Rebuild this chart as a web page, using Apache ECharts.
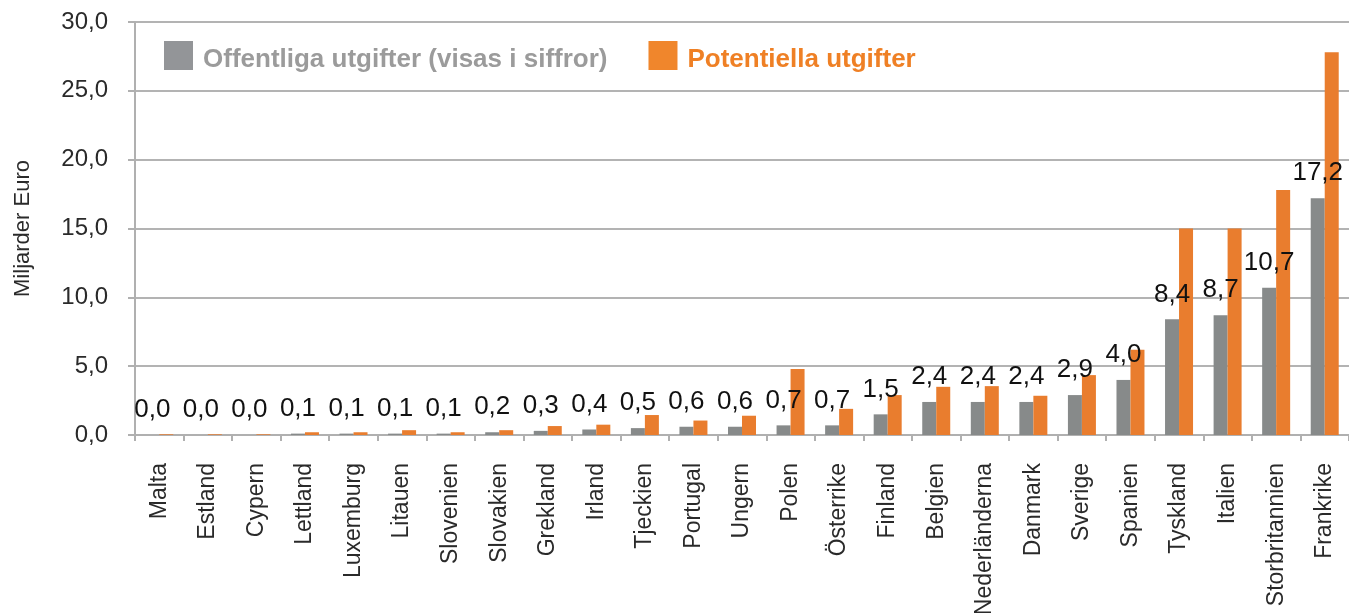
<!DOCTYPE html>
<html>
<head>
<meta charset="utf-8">
<style>
  html, body { margin: 0; padding: 0; background: #fff; }
  #chart { width: 1349px; height: 613px; }
</style>
<script src="https://cdn.jsdelivr.net/npm/echarts@6/dist/echarts.min.js"></script>
</head>
<body>
<div id="chart"></div>
<script>
var categories = ['Malta', 'Estland', 'Cypern', 'Lettland', 'Luxemburg', 'Litauen', 'Slovenien', 'Slovakien',
    'Grekland', 'Irland', 'Tjeckien', 'Portugal', 'Ungern', 'Polen', 'Österrike', 'Finland', 'Belgien',
    'Nederländerna', 'Danmark', 'Sverige', 'Spanien', 'Tyskland', 'Italien', 'Storbritannien', 'Frankrike'];

// offentliga utgifter (visas i siffror)
var offentliga = [0.0, 0.0, 0.0, 0.1, 0.1, 0.1, 0.1, 0.2, 0.3, 0.4, 0.5, 0.6, 0.6, 0.7, 0.7, 1.5, 2.4,
    2.4, 2.4, 2.9, 4.0, 8.4, 8.7, 10.7, 17.2];

// potentiella utgifter, avlästa ur staplarna
var potentiella = [0.05, 0.05, 0.05, 0.2, 0.2, 0.35, 0.2, 0.35, 0.65, 0.75, 1.45, 1.05, 1.4, 4.8, 1.9,
    2.9, 3.5, 3.55, 2.85, 4.35, 6.2, 15.0, 15.0, 17.8, 27.8];

var yTicks = [0, 5, 10, 15, 20, 25, 30];

var sans = '"Liberation Sans", Arial, sans-serif';

function komma(v) {
    return Number(v).toFixed(1).replace('.', ',');
}

// legendtext som sitter lite lägre än rutans mitt
function legendText(color) {
    return {
        color: color,
        rich: {
            t: { color: color, fontFamily: sans, fontWeight: 'bold', fontSize: 26, padding: [9, 0, 0, 5] }
        }
    };
}

function init() {
    var chart = echarts.init(document.getElementById('chart'));
    chart.setOption({
        animation: false,
        grid: { left: 135, right: 0, top: 22, bottom: 178, outerBoundsMode: 'none', containLabel: false },
        legend: {
            left: 164,
            top: 41,
            padding: 0,
            itemWidth: 29,
            itemHeight: 29,
            itemGap: 41,
            icon: 'rect',
            formatter: function (name) { return '{t|' + name + '}'; },
            data: [
                { name: 'Offentliga utgifter (visas i siffror)', itemStyle: { color: '#939598' },
                  textStyle: legendText('#9b9b9b') },
                { name: 'Potentiella utgifter', itemStyle: { color: '#f0862c' },
                  textStyle: legendText('#ef8025') }
            ],
            textStyle: { fontFamily: sans, fontWeight: 'bold', fontSize: 26 }
        },
        xAxis: {
            type: 'category',
            data: categories,
            axisLine: { lineStyle: { color: '#b0b0b0', width: 2 } },
            axisTick: { show: true, length: 6, lineStyle: { color: '#b0b0b0', width: 2 } },
            axisLabel: {
                rotate: 90,
                margin: 28,
                interval: 0,
                color: '#2a2a2a',
                fontFamily: sans,
                fontSize: 23
            }
        },
        yAxis: {
            type: 'value',
            min: yTicks[0],
            max: yTicks[yTicks.length - 1],
            interval: 5,
            name: 'Miljarder Euro',
            nameLocation: 'middle',
            nameRotate: 90,
            nameGap: 101,
            nameTextStyle: { color: '#2a2a2a', fontFamily: sans, fontSize: 22 },
            axisLine: { show: true, lineStyle: { color: '#b0b0b0', width: 2 } },
            axisTick: { show: true, length: 7, lineStyle: { color: '#b0b0b0', width: 2 } },
            splitLine: { lineStyle: { color: '#b3b3b3', width: 2 } },
            axisLabel: {
                margin: 27,
                color: '#2a2a2a',
                fontFamily: sans,
                fontSize: 24,
                formatter: komma
            }
        },
        series: [
            {
                name: 'Offentliga utgifter (visas i siffror)',
                type: 'bar',
                data: offentliga,
                barWidth: 14,
                barGap: '0%',
                itemStyle: { color: '#878a8a' },
                label: {
                    show: true,
                    position: 'top',
                    distance: 12,
                    color: '#111',
                    fontFamily: sans,
                    fontSize: 26,
                    formatter: function (p) { return komma(p.value); }
                }
            },
            {
                name: 'Potentiella utgifter',
                type: 'bar',
                data: potentiella,
                barWidth: 14,
                itemStyle: { color: '#e97d2e' }
            }
        ]
    });
}

init();
</script>
</body>
</html>
